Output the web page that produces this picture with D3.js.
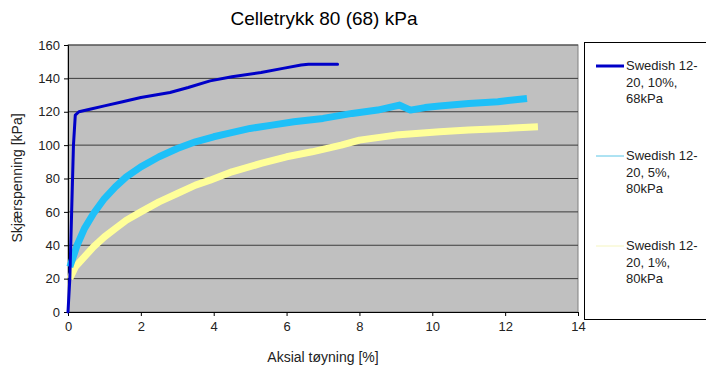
<!DOCTYPE html>
<html>
<head>
<meta charset="utf-8">
<script src="https://cdn.jsdelivr.net/npm/d3@7"></script>
<style>
body { margin:0; background:#fff; }
text { font-family: "Liberation Sans", Arial, sans-serif; }
</style>
</head>
<body>
<div id="chart"></div>
<script>
// data (strain %, shear stress kPa)
var xTicks = [0, 2, 4, 6, 8, 10, 12, 14];
var yTicks = [0, 20, 40, 60, 80, 100, 120, 140, 160];

var s10x = [0, 0.05, 0.1, 0.15, 0.2, 0.3, 0.6, 1.0, 1.5, 2.0, 2.4, 2.8, 3.3, 3.9, 4.5, 5.3, 5.9, 6.4, 6.6, 7.4];
var s10y = [0, 20, 60, 100, 118, 120, 121.5, 123.5, 126, 128.5, 130, 131.5, 134.5, 138.5, 141, 143.5, 146, 148, 148.5, 148.5];

var s5x = [0.05, 0.25, 0.45, 0.7, 1.0, 1.3, 1.6, 2.0, 2.5, 3.0, 3.5, 4.0, 4.4, 5.0, 5.6, 6.2, 7.0, 7.8, 8.5, 9.1, 9.4, 9.8, 10.2, 11.0, 11.8, 12.6];
var s5y = [27, 40, 50, 59, 68, 75, 81, 87, 93, 98, 102, 105, 107, 110, 112, 114, 116, 119, 121, 124, 121, 122.5, 123.5, 125, 126, 128];

var s1x = [0.05, 0.2, 0.45, 0.7, 1.0, 1.3, 1.6, 2.0, 2.5, 3.0, 3.5, 3.9, 4.5, 5.3, 6.0, 6.7, 7.5, 8.0, 9.0, 10.2, 11.0, 12.0, 12.9];
var s1y = [20, 27, 33, 39, 45, 50, 55, 60, 66, 71, 76, 79, 84, 89, 93, 96, 100, 103, 106, 108, 109, 110, 111];

var names = ["Swedish 12-\n20, 10%,\n68kPa", "Swedish 12-\n20, 5%,\n80kPa", "Swedish 12-\n20, 1%,\n80kPa"];
var colors = ["#0000c8", "#1ec0f8", "#ffff99"];

var W = 706, H = 373;
var m = {left:68, top:45, right:578, bottom:312};

var svg = d3.select("#chart").append("svg")
	.attr("width", W)
	.attr("height", H);

var x = d3.scaleLinear().domain([0, 14]).range([m.left, m.right]);
var y = d3.scaleLinear().domain([0, 160]).range([m.bottom, m.top]);

// plot area
svg.append("rect")
	.attr("x", m.left).attr("y", m.top)
	.attr("width", m.right - m.left).attr("height", m.bottom - m.top)
	.attr("fill", "#c0c0c0")
	.attr("stroke", "#808080");

// grid lines
svg.append("g").selectAll("line")
	.data(yTicks.slice(1))
	.enter().append("line")
	.attr("x1", m.left).attr("x2", m.right)
	.attr("y1", function(d){ return y(d); })
	.attr("y2", function(d){ return y(d); })
	.attr("stroke", "#3c3c3c")
	.attr("stroke-width", 1);

// axes
var xAxis = svg.append("g")
	.attr("transform", "translate(0," + m.bottom + ")")
	.call(d3.axisBottom(x).tickValues(xTicks).tickSize(4).tickPadding(6));
var yAxis = svg.append("g")
	.attr("transform", "translate(" + m.left + ",0)")
	.call(d3.axisLeft(y).tickValues(yTicks).tickSize(4).tickPadding(4));

[xAxis, yAxis].forEach(function(a){
	a.select(".domain").attr("stroke", "#000");
	a.selectAll(".tick line").attr("stroke", "#000");
	a.selectAll(".tick text")
		.attr("fill", "#222")
		.style("font-size", "13px")
		.style("font-family", "'Liberation Sans', Arial, sans-serif");
});

var line = d3.line()
	.x(function(d){ return x(d[0]); })
	.y(function(d){ return y(d[1]); });

function pairs(xs, ys){
	return xs.map(function(v, i){ return [v, ys[i]]; });
}

// noisy series drawn as a thick band, back to front as in the picture
svg.append("path")
	.attr("d", line(pairs(s1x, s1y)))
	.attr("fill", "none")
	.attr("stroke", colors[2])
	.attr("stroke-width", 7)
	.attr("stroke-linejoin", "round");

svg.append("path")
	.attr("d", line(pairs(s5x, s5y)))
	.attr("fill", "none")
	.attr("stroke", colors[1])
	.attr("stroke-width", 7)
	.attr("stroke-linejoin", "round");

svg.append("path")
	.attr("d", line(pairs(s10x, s10y)))
	.attr("fill", "none")
	.attr("stroke", colors[0])
	.attr("stroke-width", 3)
	.attr("stroke-linejoin", "round")
	.attr("stroke-linecap", "round");

// title and axis labels
svg.append("text")
	.attr("x", 324).attr("y", 25)
	.attr("text-anchor", "middle")
	.style("font-size", "19px")
	.text("Celletrykk 80 (68) kPa");

svg.append("text")
	.attr("x", 323).attr("y", 362)
	.attr("text-anchor", "middle")
	.style("font-size", "14px")
	.attr("fill", "#222")
	.text("Aksial tøyning [%]");

svg.append("text")
	.attr("transform", "translate(22,178) rotate(-90)")
	.attr("text-anchor", "middle")
	.style("font-size", "14px")
	.attr("fill", "#222")
	.text("Skjærspenning [kPa]");

// legend
svg.append("rect")
	.attr("x", 584.5).attr("y", 42.5)
	.attr("width", 130).attr("height", 277)
	.attr("fill", "#fff")
	.attr("stroke", "#000");

var legW = [3, 1, 1];
var legColors = ["#0000c8", "#5cc6e6", "#f5f5c0"];
var legY = [70, 160, 250];
names.forEach(function(n, i){
	svg.append("line")
		.attr("x1", 596).attr("x2", 624)
		.attr("y1", legY[i] - 4).attr("y2", legY[i] - 4)
		.attr("stroke", legColors[i])
		.attr("stroke-width", legW[i]);
	var t = svg.append("text")
		.attr("x", 626).attr("y", legY[i])
		.style("font-size", "13px")
		.attr("fill", "#222");
	n.split("\n").forEach(function(s, k){
		t.append("tspan").attr("x", 626).attr("dy", k ? 16.5 : 0).text(s);
	});
});
</script>
</body>
</html>
